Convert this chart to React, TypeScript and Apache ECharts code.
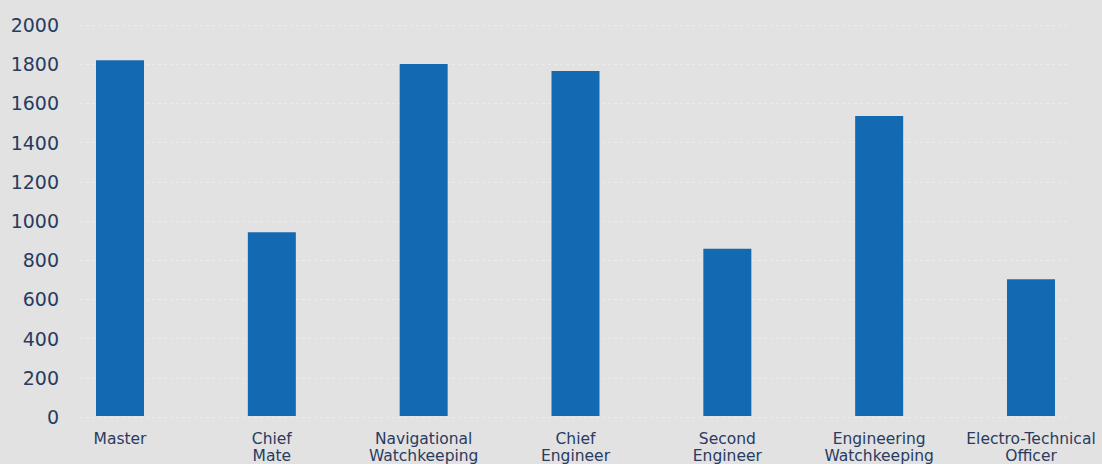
import React, { useEffect, useRef } from "react";
import * as echarts from "echarts";

const categories = [
  "Master",
  "Chief Mate",
  "Navigational Watchkeeping",
  "Chief Engineer",
  "Second Engineer",
  "Engineering Watchkeeping",
  "Electro-Technical Officer",
];
const values = [1820, 940, 1800, 1765, 855, 1535, 700];
const yMin = 0;
const yMax = 2000;
const yStep = 200;

const TEXT = "#293b60";
const BAR = "#1469b3";
const BG = "#e2e2e2";

export default function App() {
  const ref = useRef<HTMLDivElement>(null);
  useEffect(() => {
    document.body.style.margin = "0";
    const chart = echarts.init(ref.current!, null, { renderer: "svg" });
    chart.setOption({
      animation: false,
      backgroundColor: BG,
      textStyle: { fontFamily: "DejaVu Sans" },
      grid: [
        { left: 80, right: 35, top: 25, bottom: 47 },
        { left: 120, right: 71, top: 25, bottom: 47 },
      ],
      xAxis: [
        { gridIndex: 0, type: "category", data: categories, show: false },
        {
          gridIndex: 1,
          type: "category",
          data: categories,
          boundaryGap: false,
          axisLine: { show: false },
          axisTick: { show: false },
          splitLine: { show: false },
          axisLabel: {
            interval: 0,
            hideOverlap: false,
            margin: 14,
            color: TEXT,
            fontSize: 15.5,
            lineHeight: 17,
            fontFamily: "DejaVu Sans",
            formatter: (v: string) => v.replace(" ", "\n"),
          },
        },
      ],
      yAxis: [
        {
          gridIndex: 0,
          type: "value",
          min: yMin,
          max: yMax,
          interval: yStep,
          axisLine: { show: false },
          axisTick: { show: false },
          axisLabel: {
            color: TEXT,
            fontSize: 19,
            margin: 21,
            fontFamily: "DejaVu Sans",
            formatter: (v: number) => String(v),
          },
          splitLine: {
            show: true,
            lineStyle: { color: "#ebebeb", type: [3, 3], width: 1 },
          },
        },
        {
          gridIndex: 1,
          type: "value",
          min: yMin,
          max: yMax,
          interval: yStep,
          show: false,
          splitLine: { show: false },
        },
      ],
      series: [
        {
          type: "bar",
          xAxisIndex: 1,
          yAxisIndex: 1,
          data: values,
          barWidth: 48,
          clip: false,
          itemStyle: { color: BAR },
        },
      ],
    });
    return () => chart.dispose();
  }, []);
  return <div ref={ref} style={{ width: 1102, height: 464 }} />;
}
